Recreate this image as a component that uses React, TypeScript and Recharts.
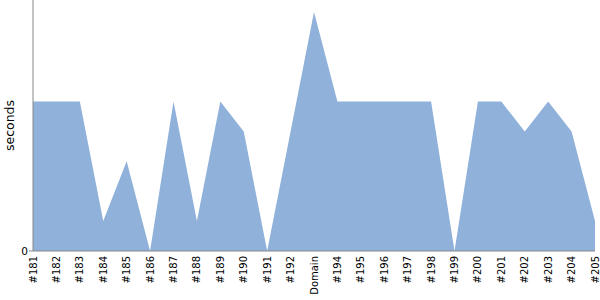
import { AreaChart, Area, XAxis, YAxis, Label } from "recharts";

const builds = [
  "#181", "#182", "#183", "#184", "#185", "#186", "#187", "#188", "#189", "#190",
  "#191", "#192", "Domain", "#194", "#195", "#196", "#197", "#198", "#199", "#200",
  "#201", "#202", "#203", "#204", "#205",
];
const durations = [5, 5, 5, 1, 3, 0, 5, 1, 5, 4, 0, 4, 8, 5, 5, 5, 5, 5, 0, 5, 5, 4, 5, 4, 1];
const yTicks = [0];

const data = builds.map((name, i) => ({ name, seconds: durations[i] }));

const font = "'DejaVu Sans', sans-serif";

// rotated build label, top end sits ~5px under the axis line
function BuildTick({ x, y, payload }: any) {
  return (
    <g transform={`translate(${x},${y})`}>
      <text
        transform="rotate(-90)"
        x={3}
        dy="0.35em"
        textAnchor="end"
        fill="#000"
        fontSize={10}
        fontFamily={font}
      >
        {payload.value}
      </text>
    </g>
  );
}

function AxisTitle({ viewBox }: any) {
  const cy = viewBox.y + viewBox.height / 2;
  return (
    <text
      x={10}
      y={cy}
      transform={`rotate(-90, 10, ${cy})`}
      dy="0.35em"
      textAnchor="middle"
      fill="#000"
      fontSize={12.5}
      fontFamily={font}
    >
      seconds
    </text>
  );
}

export default function App() {
  return (
    <div style={{ position: "absolute", left: 0, top: 0 }}>
      <AreaChart width={600} height={300} data={data} margin={{ top: 0, right: 5, bottom: 0, left: 0 }}>
        <XAxis
          dataKey="name"
          interval={0}
          height={49}
          tickLine={false}
          stroke="#888"
          tick={<BuildTick />}
        />
        <YAxis
          width={33}
          domain={[0, 8.4]}
          ticks={yTicks}
          tickSize={4}
          tickMargin={1}
          stroke="#888"
          tick={{ fill: "#000", fontSize: 10.5, fontFamily: font }}
        >
          <Label content={<AxisTitle />} />
        </YAxis>
        <Area
          type="linear"
          dataKey="seconds"
          stroke="none"
          fill="#8fb1da"
          fillOpacity={1}
          isAnimationActive={false}
        />
      </AreaChart>
    </div>
  );
}
